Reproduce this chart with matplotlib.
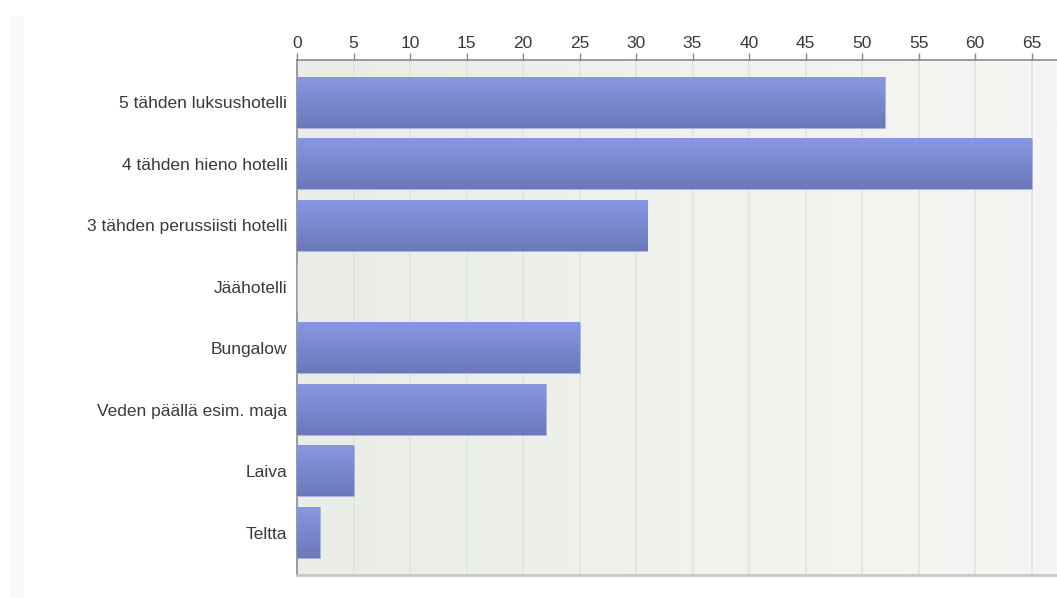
import numpy as np
import matplotlib.pyplot as plt
from matplotlib.colors import LinearSegmentedColormap
from matplotlib.patches import Rectangle

plt.rcParams['font.family'] = ['Liberation Sans', 'DejaVu Sans']

categories = [
    "5 tähden luksushotelli",
    "4 tähden hieno hotelli",
    "3 tähden perussiisti hotelli",
    "Jäähotelli",
    "Bungalow",
    "Veden päällä esim. maja",
    "Laiva",
    "Teltta",
]
counts = [52, 65, 31, 0, 25, 22, 5, 2]
xticks = list(range(0, 70, 5))

fig = plt.figure(figsize=(10.57, 5.98), dpi=100)

# faint strip at the far left of the page
fig.patches.append(Rectangle((10 / 1057, 0), 12 / 1057, 1 - 17 / 598,
                             transform=fig.transFigure, color="#f9f9f9",
                             zorder=0))

ax = fig.add_axes([297 / 1057, 23 / 598, 1 - 297 / 1057, 515 / 598])

# plot area: soft greenish gradient from left to right
bg = LinearSegmentedColormap.from_list("bg", ["#e9ede6", "#f6f7f4"])
ax.imshow(np.linspace(0, 1, 256).reshape(1, -1), cmap=bg, aspect="auto",
          extent=[0, 1, 0, 1], transform=ax.transAxes, zorder=0)

y = np.arange(len(categories))
bar_h = 0.82
bars = ax.barh(y, counts, height=bar_h, color="#7886d0", edgecolor="#a9b3e6",
               linewidth=0.6, zorder=3)

# vertical shading inside each bar
shade = LinearSegmentedColormap.from_list("shade", ["#8797e2", "#6b79b9"])
grad = np.linspace(0, 1, 64).reshape(-1, 1)
for yi, val in zip(y, counts):
    if val <= 0:
        continue
    ax.imshow(grad, cmap=shade, aspect="auto", zorder=3.5,
              extent=[0, val, yi + bar_h / 2, yi - bar_h / 2])

ax.set_xlim(0, 67.25)
ax.set_ylim(len(categories) - 0.31, -0.69)

ax.set_xticks(xticks)
ax.xaxis.tick_top()
ax.tick_params(axis="x", length=5, width=1, color="#888888", labelcolor="#3a3a3a",
               labelsize=12.5, pad=1.5)
ax.set_yticks(y)
ax.set_yticklabels(categories)
ax.tick_params(axis="y", length=0, labelcolor="#3a3a3a", labelsize=12.5, pad=7)

ax.grid(axis="x", color="#e0e2de", linewidth=1.1, zorder=1)
ax.set_axisbelow(True)

ax.spines["right"].set_visible(False)
ax.spines["top"].set_color("#8a8a8a")
ax.spines["top"].set_linewidth(1.2)
ax.spines["left"].set_color("#8a8a8a")
ax.spines["left"].set_linewidth(1.2)
ax.spines["bottom"].set_color("#c8c8c8")
ax.spines["bottom"].set_linewidth(2)

fig.savefig("out.png", dpi=100)
